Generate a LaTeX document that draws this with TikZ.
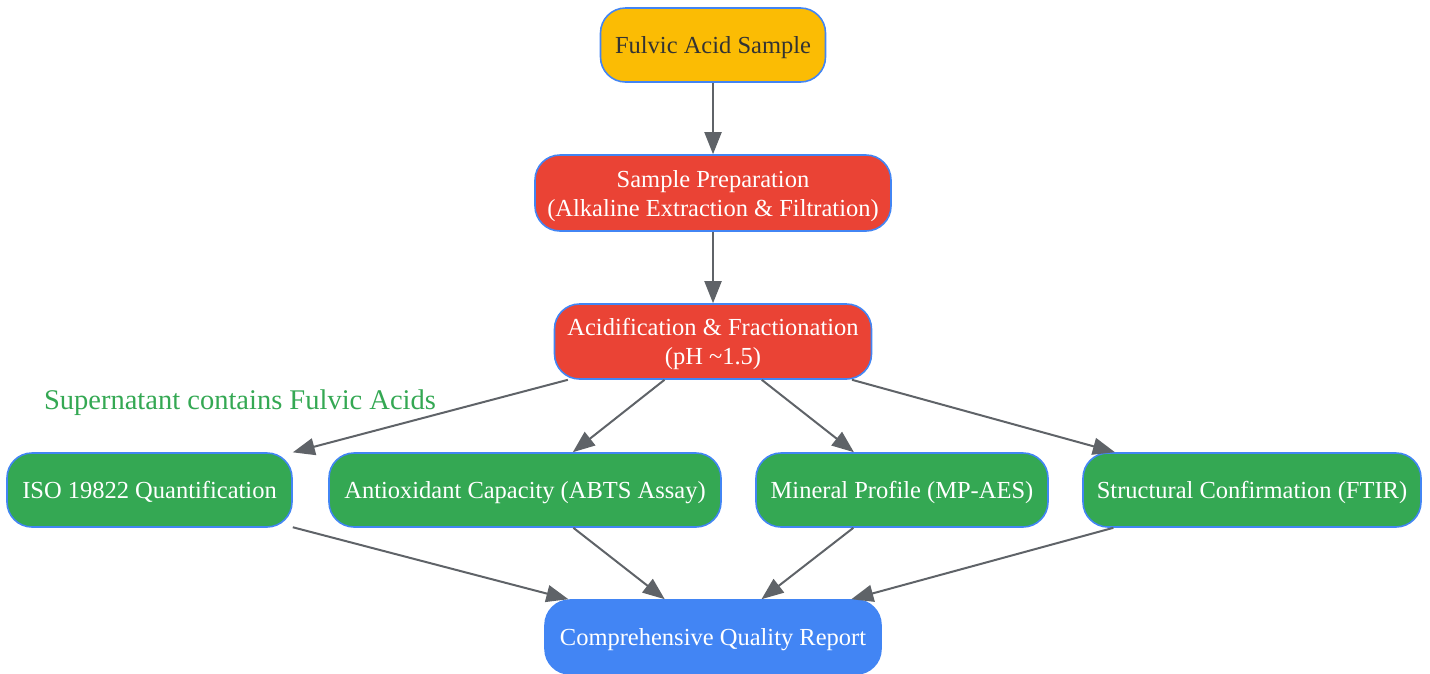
\documentclass[tikz,border=0pt]{standalone}
\usepackage{fontspec}
\setmainfont{Liberation Serif}
\usetikzlibrary{arrows.meta}
\definecolor{cyellow}{HTML}{FBBC04}
\definecolor{cred}{HTML}{EA4335}
\definecolor{cgreen}{HTML}{34A853}
\definecolor{cblue}{HTML}{4285F4}
\definecolor{cgray}{HTML}{5F6368}
\definecolor{ctext}{HTML}{333333}
\newcommand\boxtext[1]{\raisebox{-3pt}[\height][\depth]{\begin{tabular}{@{}c@{}}#1\end{tabular}}}
\tikzset{
  box/.style={draw=cblue, line width=1.6pt, rounded corners=25pt, inner sep=0pt,
    align=center, font=\fontsize{24.5}{29}\selectfont, text=white, minimum height=74pt},
  edge/.style={draw=cgray, line width=2pt, -{Triangle[length=22pt,width=17pt]}},
}
\begin{document}
\begin{tikzpicture}[x=1pt,y=-1pt]
\useasboundingbox (0,0) rectangle (1430,673);
\node[box, fill=cyellow, text=ctext, minimum width=225pt] (fa) at (713,45) {\boxtext{Fulvic Acid Sample}};
\node[box, fill=cred, minimum width=356pt, minimum height=76pt] (sp) at (713,193) {\boxtext{Sample Preparation\\(Alkaline Extraction \& Filtration)}};
\node[box, fill=cred, minimum width=317pt, minimum height=75pt] (ac) at (713,341.5) {\boxtext{Acidification \& Fractionation\\(pH \textasciitilde 1.5)}};
\node[box, fill=cgreen, minimum width=285pt] (iso) at (149.5,490) {\boxtext{ISO 19822 Quantification}};
\node[box, fill=cgreen, minimum width=392pt] (ao) at (525,490) {\boxtext{Antioxidant Capacity (ABTS Assay)}};
\node[box, fill=cgreen, minimum width=292pt] (mp) at (902,490) {\boxtext{Mineral Profile (MP-AES)}};
\node[box, fill=cgreen, minimum width=338pt] (sc) at (1252,490) {\boxtext{Structural Confirmation (FTIR)}};
\node[box, fill=cblue, minimum width=336pt] (rep) at (713,637) {\boxtext{Comprehensive Quality Report}};
\node[text=cgreen, font=\fontsize{28.5}{32}\selectfont, inner sep=0pt] (lbl) at (240,402.5) {Supernatant contains Fulvic Acids};
\draw[edge] (fa) -- (sp);
\draw[edge] (sp) -- (ac);
\draw[edge] (ac) -- (iso);
\draw[edge] (ac) -- (ao);
\draw[edge] (ac) -- (mp);
\draw[edge] (ac) -- (sc);
\draw[edge] (iso) -- (rep);
\draw[edge] (ao) -- (rep);
\draw[edge] (mp) -- (rep);
\draw[edge] (sc) -- (rep);
\end{tikzpicture}
\end{document}
